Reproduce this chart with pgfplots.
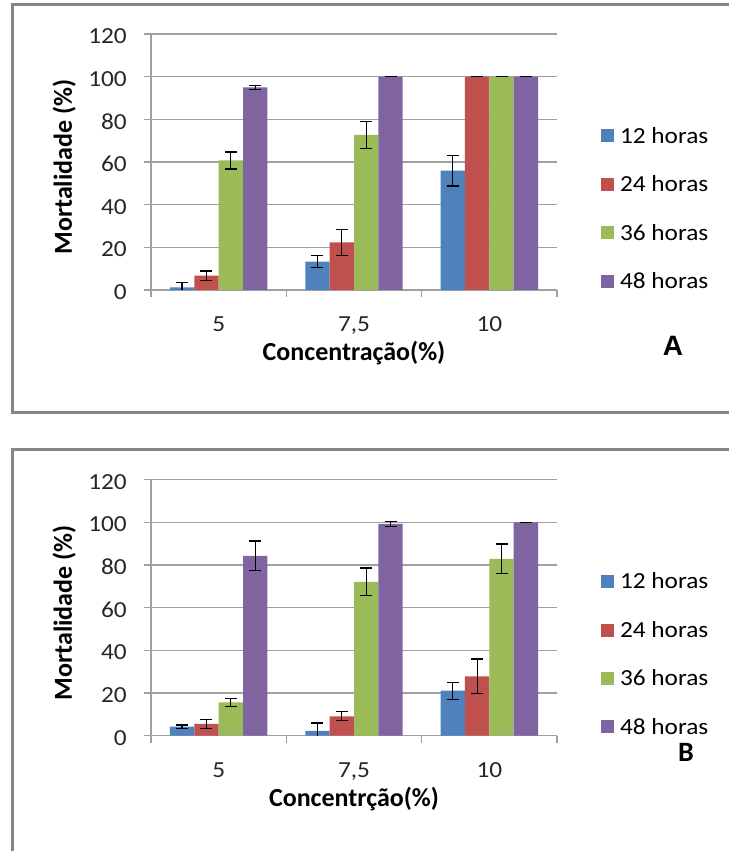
\documentclass[border=0pt]{standalone}
\usepackage{fontspec}
\setmainfont{Carlito}
\newfontfamily\tickfont{Carlito}[FakeStretch=1.1]
\newfontfamily\arialfont{Liberation Sans}
\usepackage{pgfplots}
\pgfplotsset{compat=1.18}
\definecolor{c12}{HTML}{4F81BD}
\definecolor{c24}{HTML}{C0504D}
\definecolor{c36}{HTML}{9BBB59}
\definecolor{c48}{HTML}{8064A2}
\definecolor{gridgray}{HTML}{A0A0A0}
\definecolor{framegray}{HTML}{868686}
\pgfplotsset{
  panel/.style={
    scale only axis, width=406bp, height=256bp,
    ymin=0, ymax=120, ytick={0,20,...,120},
    xmin=-0.5, xmax=2.5,
    xtick={-0.5,0.5,1.5,2.5}, x tick label as interval,
    xticklabels={5,{7,5},10},
    axis x line*=bottom, axis y line*=left,
    axis line style={gridgray, line width=1.1bp},
    tick style={gridgray, line width=1.1bp},
    major tick length=7bp, tick align=outside,
    ymajorgrids, grid style={gridgray, line width=1.1bp},
    /pgf/number format/assume math mode=true,
    ticklabel style={font=\tickfont\fontsize{23bp}{27bp}\selectfont, text=black!85},
    yticklabel style={anchor=east, inner sep=0pt, xshift=-17bp, yshift=-2bp},
    xticklabel style={anchor=base, inner sep=0pt, yshift=-35bp},
    label style={font=\bfseries\fontsize{26bp}{30bp}\selectfont},
    xlabel style={at={(axis description cs:0.5,0)}, anchor=base, yshift=-71bp},
    ylabel style={at={(axis description cs:-0.214,0.48)}, anchor=center},
    ylabel={Mortalidade (\%)},
    ybar=0pt, bar width=0.18,
    legend style={at={(axis description cs:1.108,0.318)}, anchor=west,
      draw=none, fill=none, inner sep=0pt, row sep=27bp,
      font=\tickfont\fontsize{23bp}{27bp}\selectfont},
    legend cell align=left,
    legend image code/.code={\fill[##1] (0bp,-6.5bp) rectangle (13bp,6.5bp); \path (17bp,0bp);},
  },
  errb/.style={draw=none, error bars/.cd, y dir=both, y explicit,
    error bar style={draw=black, line width=1.3bp},
    error mark options={rotate=90, mark size=6bp, draw=black, line width=1.3bp}},
}
\begin{document}
\begin{tikzpicture}
\path[use as bounding box] (0,0) rectangle (729bp,851bp);
\begin{scope}
\clip (0,0) rectangle (729bp,851bp);
\draw[framegray, line width=2.5bp] (12.5bp,846.7bp) rectangle (745bp,438.7bp);
\draw[framegray, line width=2.5bp] (12.5bp,401.3bp) rectangle (745bp,-20bp);
\end{scope}

% Panel A
\begin{axis}[panel, at={(151bp,561bp)}, anchor=south west, xlabel={Concentração(\%)}]
\addplot[fill=c12, errb] coordinates {(0,1.2) +- (0,2.2) (1,13.3) +- (0,2.8) (2,56) +- (0,7.2)};
\addplot[fill=c24, errb] coordinates {(0,6.7) +- (0,2.2) (1,22.3) +- (0,6.0) (2,100) +- (0,0)};
\addplot[fill=c36, errb] coordinates {(0,60.7) +- (0,4.0) (1,72.7) +- (0,6.3) (2,100) +- (0,0)};
\addplot[fill=c48, errb] coordinates {(0,95.0) +- (0,1.0) (1,100) +- (0,0) (2,100) +- (0,0)};
\legend{12 horas, 24 horas, 36 horas, 48 horas}
\end{axis}

% Panel B
\begin{axis}[panel, at={(151bp,115.3bp)}, anchor=south west, xlabel={Concentrção(\%)}]
\addplot[fill=c12, errb] coordinates {(0,4.2) +- (0,0.8) (1,2.3) +- (0,3.6) (2,21.1) +- (0,4.0)};
\addplot[fill=c24, errb] coordinates {(0,5.5) +- (0,2.1) (1,9.1) +- (0,2.1) (2,27.8) +- (0,8.1)};
\addplot[fill=c36, errb] coordinates {(0,15.6) +- (0,2.0) (1,72.1) +- (0,6.5) (2,82.9) +- (0,7.0)};
\addplot[fill=c48, errb] coordinates {(0,84.3) +- (0,7.0) (1,99.3) +- (0,1.1) (2,100) +- (0,0)};
\legend{12 horas, 24 horas, 36 horas, 48 horas}
\end{axis}

\node[inner sep=0pt, font=\arialfont\bfseries\fontsize{28bp}{32bp}\selectfont] at (673bp,505bp) {A};
\node[inner sep=0pt, font=\bfseries\fontsize{28bp}{32bp}\selectfont] at (686bp,99bp) {B};
\end{tikzpicture}
\end{document}
